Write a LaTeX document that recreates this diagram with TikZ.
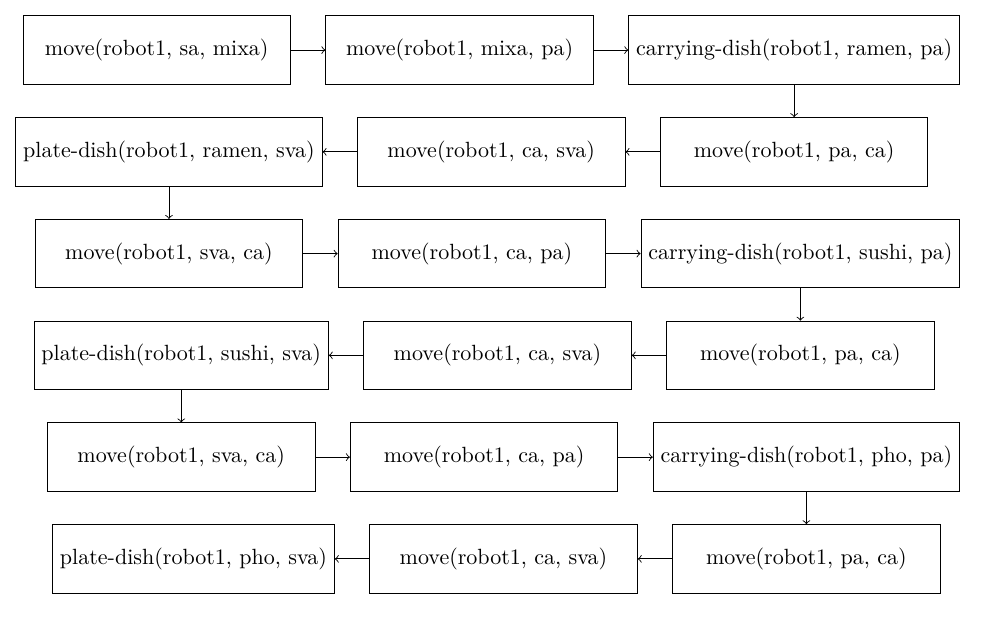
\documentclass[tikz,border=0pt]{standalone}
\usepackage{tikz}
\usetikzlibrary{calc, positioning, arrows.meta}
\tikzset{
	node distance = 5.18mm and 5.5mm,
	>={Classical TikZ Rightarrow},
	action/.style={
		draw,
		rectangle,
		minimum width=4.27cm,
		minimum height=1.092cm
	},
	edge/.style={
		->
	}
}

\begin{document}
\begin{tikzpicture}
\node[action] (1) {move(robot1, sa, mixa)};
\node[action, right = of 1] (2) {move(robot1, mixa, pa)};
\node[action, right = of 2] (3) {carrying-dish(robot1, ramen, pa)};
\node[action, below = of 3] (4) {move(robot1, pa, ca)};
\node[action, left = of 4] (5) {move(robot1, ca, sva)};
\node[action, left = of 5] (6) {plate-dish(robot1, ramen, sva)};
\node[action, below = of 6] (7) {move(robot1, sva, ca)};
\node[action, right = of 7] (8) {move(robot1, ca, pa)};
\node[action, right = of 8] (9) {carrying-dish(robot1, sushi, pa)};
\node[action, below = of 9] (10) {move(robot1, pa, ca)};
\node[action, left = of 10] (11) {move(robot1, ca, sva)};
\node[action, left = of 11] (12) {plate-dish(robot1, sushi, sva)};
\node[action, below = of 12] (13) {move(robot1, sva, ca)};
\node[action, right = of 13] (14) {move(robot1, ca, pa)};
\node[action, right = of 14] (15) {carrying-dish(robot1, pho, pa)};
\node[action, below = of 15] (16) {move(robot1, pa, ca)};
\node[action, left = of 16] (17) {move(robot1, ca, sva)};
\node[action, left = of 17] (18) {plate-dish(robot1, pho, sva)};

\draw[edge] (1) -- (2);
\draw[edge] (2) -- (3);
\draw[edge] (3) -- (4);
\draw[edge] (4) -- (5);
\draw[edge] (5) -- (6);
\draw[edge] (6) -- (7);
\draw[edge] (7) -- (8);
\draw[edge] (8) -- (9);
\draw[edge] (9) -- (10);
\draw[edge] (10) -- (11);
\draw[edge] (11) -- (12);
\draw[edge] (12) -- (13);
\draw[edge] (13) -- (14);
\draw[edge] (14) -- (15);
\draw[edge] (15) -- (16);
\draw[edge] (16) -- (17);
\draw[edge] (17) -- (18);

\useasboundingbox ($(6.west |- 1.north)+(-7pt,7pt)$) rectangle ($(3.east |- 18.south)+(10pt,-17pt)$);
\end{tikzpicture}
\end{document}
